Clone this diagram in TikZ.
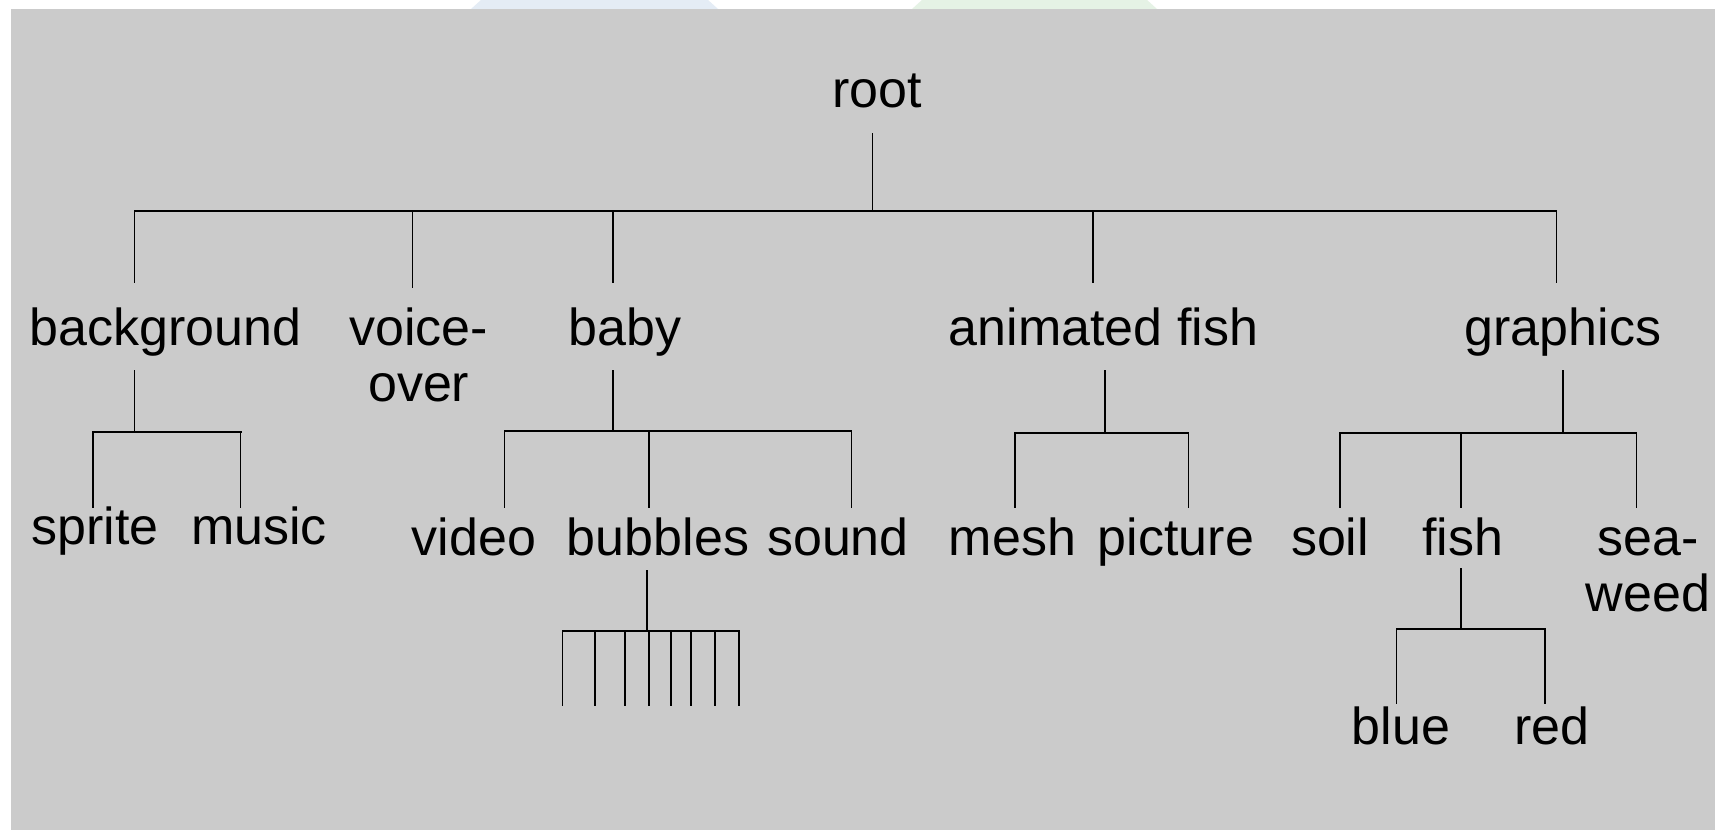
\documentclass[tikz,border=0pt]{standalone}
\usepackage{fontspec}
\setmainfont{Liberation Sans}
\definecolor{panel}{RGB}{203,203,203}
\definecolor{wmblue}{RGB}{228,236,245}
\definecolor{wmgreen}{RGB}{229,242,229}
\tikzset{
  lbl/.style={inner sep=0pt, anchor=base, font=\fontsize{26}{28.35}\selectfont, align=center},
  branch/.style={line width=0.7pt, line cap=rect, draw=black},
  bus/.style={line width=0.85pt, line cap=rect, draw=black},
}
\begin{document}
\begin{tikzpicture}[x=0.5pt,y=-0.5pt]
\useasboundingbox (0,0) rectangle (1724,830);
\fill[white] (0,0) rectangle (1724,830);
% faint shapes peeking above the panel
\fill[wmblue] (471,9) -- (481,0) -- (708,0) -- (718,9) -- cycle;
\fill[wmgreen] (912,9) -- (922,0) -- (1147,0) -- (1157,9) -- cycle;
% grey panel
\fill[panel] (11,9) rectangle (1715,830);

% labels (two-line labels are anchored on their last baseline)
\node[lbl] (root) at (877,107) {root};
\node[lbl] (background) at (165.8,345) {background};
\node[lbl] (voice) at (418.7,401.7) {voice-\\over};
\node[lbl] (baby) at (625,345) {baby};
\node[lbl] (afish) at (1103.5,345) {animated fish};
\node[lbl] (graphics) at (1563,345) {graphics};
\node[lbl] (sprite) at (95,544) {sprite};
\node[lbl] (music) at (259,544) {music};
\node[lbl] (video) at (474,555) {video};
\node[lbl] (bubbles) at (658,555) {bubbles};
\node[lbl] (sound) at (838,555) {sound};
\node[lbl] (mesh) at (1012.5,555) {mesh};
\node[lbl] (picture) at (1176,555) {picture};
\node[lbl] (soil) at (1330,555) {soil};
\node[lbl] (fish) at (1462.5,555) {fish};
\node[lbl] (seaweed) at (1648,611.7) {sea-\\weed};
\node[lbl] (blue) at (1401,744) {blue};
\node[lbl] (red) at (1552,744) {red};

% root level
\coordinate (rtop) at (872.5,134);
\coordinate (rbus) at (872.5,210.7);
\draw[branch] (rtop) -- (rbus);
\draw[bus] (134.6,210.7) -- (1556.6,210.7);
\foreach \x/\e in {134.6/282.7, 412.6/287, 613/282.7, 1092.9/282.7, 1556.6/282.7}
  \draw[branch] (\x,210.7) -- (\x,\e);

% background
\coordinate (bgtop) at (134.7,370.7);
\coordinate (bgbus) at (134.7,432.3);
\draw[branch] (bgtop) -- (bgbus);
\draw[bus] (93,432.3) -- (240.7,432.3);
\foreach \x in {93,240.7}
  \draw[branch] (\x,432.3) -- (\x,507);

% baby
\coordinate (bbtop) at (613,370.7);
\coordinate (bbbus) at (613,431);
\draw[branch] (bbtop) -- (bbbus);
\draw[bus] (504.6,431) -- (851.2,431);
\foreach \x in {504.6,649,851.2}
  \draw[branch] (\x,431) -- (\x,507);

% animated fish
\coordinate (aftop) at (1105,370.7);
\coordinate (afbus) at (1105,432.7);
\draw[branch] (aftop) -- (afbus);
\draw[bus] (1015,432.7) -- (1188.5,432.7);
\foreach \x in {1015,1188.5}
  \draw[branch] (\x,432.7) -- (\x,507);

% graphics
\coordinate (grtop) at (1563,370.7);
\coordinate (grbus) at (1563,432.7);
\draw[branch] (grtop) -- (grbus);
\draw[bus] (1340,432.7) -- (1636.5,432.7);
\foreach \x in {1340,1461,1636.5}
  \draw[branch] (\x,432.7) -- (\x,507);

% bubbles comb
\coordinate (bubtop) at (647,570.7);
\coordinate (bubbus) at (647,631);
\draw[branch] (bubtop) -- (bubbus);
\draw[bus] (562.7,631) -- (739,631);
\foreach \x in {562.7,595,625,649,671,691,715,739}
  \draw[branch] (\x,631) -- (\x,705);

% fish
\coordinate (fitop) at (1461,569);
\coordinate (fibus) at (1461,628.7);
\draw[branch] (fitop) -- (fibus);
\draw[bus] (1396.5,628.7) -- (1545,628.7);
\foreach \x in {1396.5,1545}
  \draw[branch] (\x,628.7) -- (\x,703);
\end{tikzpicture}
\end{document}
